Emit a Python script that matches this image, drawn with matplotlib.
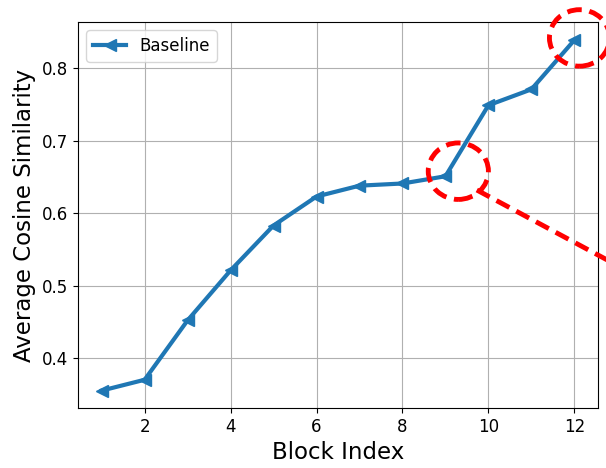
import matplotlib.pyplot as plt
from matplotlib.patches import Ellipse

# data
blocks = [1, 2, 3, 4, 5, 6, 7, 8, 9, 10, 11, 12]
baseline = [0.355, 0.370, 0.452, 0.521, 0.583, 0.623, 0.638, 0.641, 0.651, 0.749, 0.771, 0.839]

fig = plt.figure(figsize=(6.06, 4.68), dpi=100)
ax = fig.add_axes([78 / 606, 60 / 468, 520 / 606, 386 / 468])

ax.plot(blocks, baseline, marker='<', color='tab:blue', linewidth=3,
        markersize=9, label='Baseline')

ax.set_xlabel('Block Index', fontsize=16.5)
ax.set_ylabel('Average Cosine Similarity', fontsize=16.5)
ax.set_xticks([2, 4, 6, 8, 10, 12])
ax.set_yticks([0.4, 0.5, 0.6, 0.7, 0.8])
ax.tick_params(labelsize=12)
ax.grid(True)
ax.legend(loc='upper left', fontsize=12)

# red dashed highlight circles
for cx, cy in [(9.3, 0.658), (12.12, 0.842)]:
    e = Ellipse((cx, cy), width=1.4, height=0.078, fill=False, edgecolor='red',
                linewidth=3.5, linestyle=(0, (3, 1.6)), clip_on=False, zorder=5)
    ax.add_patch(e)

# dashed pointer line leaving the frame
ax.plot([9.73, 13.5], [0.632, 0.512], color='red', linewidth=3.5,
        linestyle=(0, (3, 1.6)), clip_on=False, zorder=5)
ax.set_xlim(0.45, 12.55)
ax.set_ylim(0.331, 0.864)

fig.savefig('out.png', dpi=100)
